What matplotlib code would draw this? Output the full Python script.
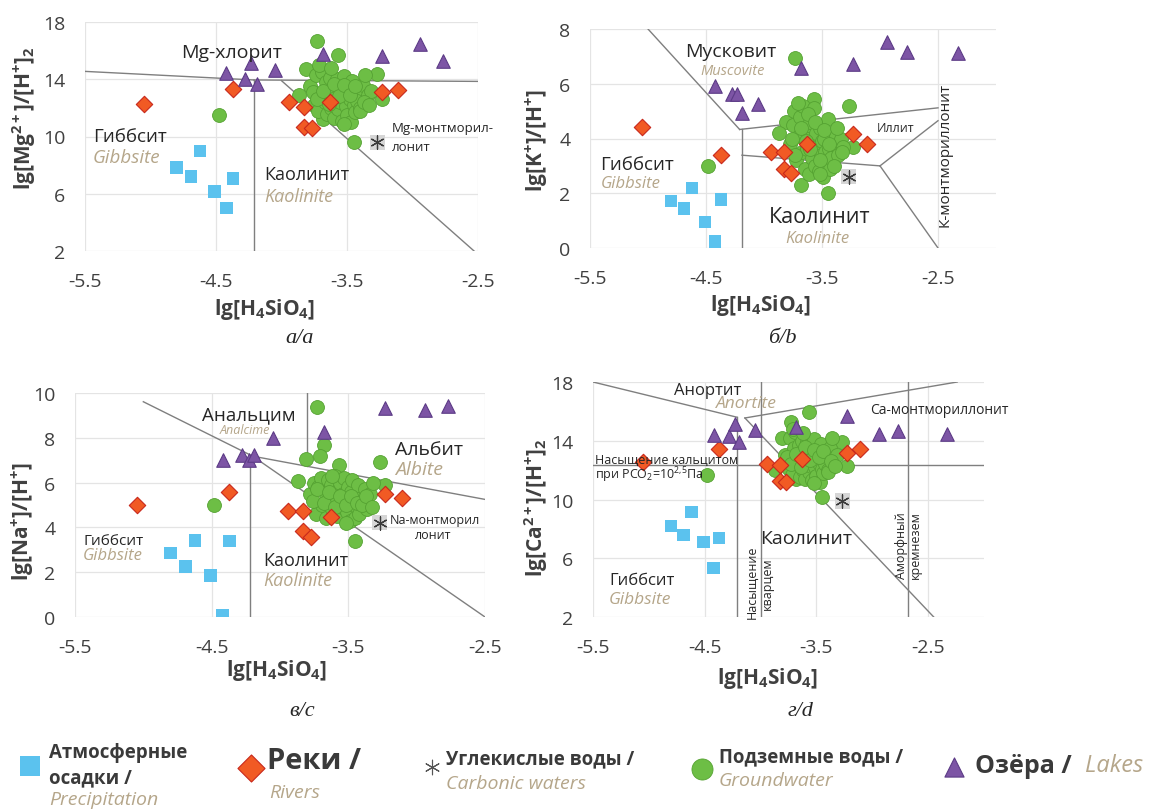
import matplotlib as mpl

mpl.use('Agg')

import matplotlib.pyplot as plt

# ---------------- fonts / colours ----------------
plt.rcParams['font.family'] = ['Open Sans', 'DejaVu Sans']
plt.rcParams['mathtext.fontset'] = 'custom'
plt.rcParams['mathtext.rm'] = 'Open Sans'
plt.rcParams['mathtext.it'] = 'Open Sans:italic'
plt.rcParams['mathtext.bf'] = 'Open Sans:bold'
plt.rcParams['axes.unicode_minus'] = False

TXT = '#262626'
TICK = '#404040'
TAN = '#B5A68A'
LINE = '#7F7F7F'
GRID = '#E4E4E4'

C_PREC = '#5BC2EE'
C_RIVER, E_RIVER = '#F15A24', '#C8281C'
C_GW, E_GW = '#6DBE45', '#55A232'
C_LAKE, E_LAKE = '#7D55A5', '#5C3B86'

W, H = 1154, 812

# ---------------- data ----------------
xticks = [-5.5, -4.5, -3.5, -2.5]
xtick_labels = ['-5.5', '-4.5', '-3.5', '-2.5']

# атмосферные осадки
prec_x = [-4.80, -4.69, -4.62, -4.51, -4.42, -4.37]
prec_mg = [7.84, 7.21, 9.00, 6.16, 5.00, 7.07]
prec_k = [1.72, 1.44, 2.19, 0.94, 0.24, 1.77]
prec_na = [2.87, 2.26, 3.42, 1.86, 0.10, 3.39]
prec_ca = [8.20, 7.59, 9.13, 7.10, 5.33, 7.37]

# реки
river_x = [-5.05, -4.37, -3.94, -3.83, -3.83, -3.77, -3.63, -3.23, -3.11]
river_mg = [12.26, 13.35, 12.42, 12.09, 10.67, 10.58, 12.44, 13.12, 13.26]
river_k = [4.41, 3.39, 3.49, 3.51, 2.89, 2.73, 3.81, 4.15, 3.79]
river_na = [4.98, 5.57, 4.75, 4.71, 3.83, 3.57, 4.46, 5.50, 5.32]
river_ca = [12.57, 13.43, 12.41, 12.34, 11.26, 11.20, 12.73, 13.18, 13.41]

# озёра
lake_x = [-4.42, -4.28, -4.23, -4.19, -4.05, -3.68, -3.23, -2.94, -2.77, -2.33]
lake_mg = [14.42, 14.05, 15.16, 13.65, 14.65, 15.74, 15.63, 16.44, 15.28, 15.00]
lake_k = [5.92, 5.62, 5.62, 4.93, 5.27, 6.56, 6.71, 7.52, 7.16, 7.13]
lake_na = [7.03, 7.24, 7.00, 7.24, 7.98, 8.28, 9.32, 9.24, 9.44, 9.30]
lake_ca = [14.38, 14.31, 15.17, 13.93, 14.72, 14.95, 15.67, 14.45, 14.67, 14.45]

# углекислые воды
carb_x = [-3.27]
carb_mg = [9.60]
carb_k = [2.60]
carb_na = [4.21]
carb_ca = [9.90]

# подземные воды
gw_x = [-4.48, -3.73, -3.57, -3.45, -3.81, -3.87, -3.27, -3.23, -3.68,
        -3.78, -3.75, -3.74, -3.72, -3.70, -3.69, -3.67, -3.66, -3.65, -3.64,
        -3.63, -3.62, -3.61, -3.60, -3.59, -3.58, -3.57, -3.56, -3.55, -3.54,
        -3.53, -3.52, -3.51, -3.50, -3.49, -3.48, -3.47, -3.46, -3.45, -3.44,
        -3.43, -3.42, -3.40, -3.38, -3.36, -3.34, -3.32, -3.71, -3.62, -3.52,
        -3.76, -3.73, -3.68, -3.64, -3.60, -3.56, -3.52, -3.48, -3.44, -3.40,
        -3.37, -3.33]
gw_mg = [11.50, 16.70, 15.70, 9.60, 14.70, 12.90, 14.40, 12.60, 11.20,
         13.5, 12.2, 14.3, 11.8, 13.0, 14.5, 12.4, 13.8, 11.6, 12.9,
         14.1, 12.0, 13.3, 11.3, 12.7, 14.0, 11.9, 13.5, 12.4, 11.1,
         13.0, 14.2, 12.1, 11.5, 13.4, 12.6, 11.0, 13.9, 12.2, 11.7,
         13.1, 12.5, 12.0, 13.6, 14.3, 12.9, 13.2, 15.0, 14.8, 10.9,
         13.1, 12.6, 13.2, 12.3, 13.7, 12.8, 13.6, 12.9, 13.5, 11.8,
         12.4, 12.2]
gw_k = [3.00, 6.95, 5.45, 2.00, 4.60, 4.20, 5.20, 3.70, 2.30,
        3.8, 4.5, 5.0, 3.2, 4.1, 4.8, 3.5, 5.2, 2.9, 4.3,
        3.6, 4.0, 2.7, 4.6, 3.3, 3.9, 5.1, 3.0, 4.2, 3.7,
        2.8, 4.4, 3.4, 3.9, 2.6, 4.0, 3.5, 3.1, 4.7, 3.6,
        2.9, 3.3, 3.8, 4.1, 3.4, 4.0, 3.7, 5.3, 4.9, 2.7,
        4.0, 3.4, 4.4, 3.9, 3.6, 4.6, 3.2, 4.3, 3.8, 3.0,
        4.4, 3.5]
gw_na = [5.00, 9.39, 6.80, 3.40, 7.05, 6.06, 6.90, 5.90, 7.70,
         5.5, 6.0, 4.6, 5.8, 6.2, 5.0, 5.6, 4.4, 6.1, 5.3,
         5.9, 4.8, 5.4, 6.3, 5.1, 4.5, 5.7, 6.0, 4.9, 5.5,
         6.2, 5.2, 4.7, 5.8, 4.3, 5.6, 6.1, 5.0, 4.4, 5.3,
         5.9, 4.6, 5.2, 5.7, 4.8, 5.5, 6.0, 7.2, 6.3, 4.2,
         5.2, 5.7, 5.1, 5.6, 4.9, 5.4, 5.0, 5.4, 5.1, 5.0,
         5.4, 4.9]
gw_ca = [11.70, 15.30, 15.95, 10.15, 14.20, 12.00, 13.90, 12.30, 11.40,
         13.0, 12.1, 14.2, 11.7, 13.5, 14.6, 12.4, 13.7, 11.5, 12.8,
         14.0, 12.0, 13.3, 11.4, 12.7, 13.9, 11.9, 13.4, 12.3, 11.3,
         13.0, 14.1, 12.2, 11.6, 13.2, 12.5, 11.2, 13.8, 12.1, 11.8,
         13.1, 12.4, 12.0, 13.5, 14.2, 12.8, 13.0, 14.8, 14.5, 11.1,
         12.9, 12.4, 13.1, 12.2, 13.6, 12.7, 13.4, 12.9, 13.3, 11.9,
         12.6, 12.3]

# границы полей устойчивости минералов (отрезки)
bnd_a = [[(-5.5, 14.55), (-4.21, 13.95)],
         [(-4.21, 13.95), (-2.5, 13.85)],
         [(-4.21, 2.0), (-4.21, 13.95)],
         [(-4.0, 13.9), (-2.53, 2.0)]]
bnd_b = [[(-5.0, 8.0), (-4.21, 4.33)],
         [(-4.21, 4.33), (-2.5, 5.12)],
         [(-4.19, 0.0), (-4.19, 4.33)],
         [(-4.19, 3.39), (-3.0, 3.0)],
         [(-3.0, 3.0), (-2.5, 4.65)],
         [(-3.0, 3.0), (-2.5, 0.0)]]
bnd_c = [[(-5.0, 9.61), (-4.2, 7.18)],
         [(-4.2, 7.18), (-2.5, 0.0)],
         [(-4.2, 7.18), (-2.5, 5.25)],
         [(-4.22, 0.0), (-4.22, 7.18)],
         [(-3.80, 6.73), (-3.80, 10.0)]]
bnd_d = [[(-5.5, 18.0), (-4.21, 15.6)],
         [(-4.14, 15.55), (-2.24, 18.0)],
         [(-4.14, 15.55), (-2.45, 2.0)],
         [(-4.21, 2.0), (-4.21, 15.6)],
         [(-4.0, 2.0), (-4.0, 18.0)],
         [(-2.68, 2.0), (-2.68, 18.0)],
         [(-5.5, 12.34), (-2.0, 12.34)]]

fig = plt.figure(figsize=(W / 100, H / 100), dpi=100)


def px_axes(left, top, right, bottom):
    return fig.add_axes([left / W, 1 - bottom / H, (right - left) / W, (bottom - top) / H])


def draw_panel(ax, xlim, ylim, yticks, bnd, y_prec, y_river, y_gw, y_lake, y_carb):
    ax.set_xlim(xlim)
    ax.set_ylim(ylim)
    ax.set_xticks(xticks)
    ax.set_xticklabels(xtick_labels)
    ax.set_yticks(yticks)
    ax.set_yticklabels([str(v) for v in yticks])
    ax.grid(True, color=GRID, lw=0.9, zorder=0)
    ax.set_axisbelow(True)
    for s in ax.spines.values():
        s.set_visible(False)
    ax.tick_params(axis='x', length=0, labelsize=14, labelcolor=TICK, pad=15)
    ax.tick_params(axis='y', length=0, labelsize=14, labelcolor=TICK, pad=14)

    for seg in bnd:
        (x0, y0), (x1, y1) = seg
        ax.plot([x0, x1], [y0, y1], color=LINE, lw=1.0, zorder=2)

    ax.scatter(gw_x, y_gw, s=100, marker='o', color=C_GW, edgecolors=E_GW,
               linewidths=0.6, zorder=3)
    ax.scatter(prec_x, y_prec, s=80, marker='s', color=C_PREC, edgecolors='none', zorder=3)
    ax.scatter(river_x, y_river, s=70, marker='D', color=C_RIVER, edgecolors=E_RIVER,
               linewidths=0.8, zorder=4)
    ax.scatter(lake_x, y_lake, s=95, marker='^', color=C_LAKE, edgecolors=E_LAKE,
               linewidths=0.8, zorder=5)
    ax.scatter(carb_x, y_carb, s=120, marker='s', color='#D6D6D6', edgecolors='none', zorder=5)
    ax.scatter(carb_x, y_carb, s=90, marker=(6, 2, 0), color='#3A3A3A', linewidths=0.9, zorder=6)


# ---------------- (а) Mg ----------------
ax_a = px_axes(85, 23, 478, 252)
draw_panel(ax_a, (-5.5, -2.5), (2, 18), [2, 6, 10, 14, 18], bnd_a,
           prec_mg, river_mg, gw_mg, lake_mg, carb_mg)
ax_a.text(-4.38, 15.9, 'Mg-хлорит', fontsize=14, color=TXT, ha='center', va='center', zorder=7)
ax_a.text(-5.44, 10.03, 'Гиббсит', fontsize=13.5, color=TXT, ha='left', va='center')
ax_a.text(-5.44, 8.56, 'Gibbsite', fontsize=13.5, color=TAN, style='italic', ha='left', va='center')
ax_a.text(-4.13, 7.37, 'Каолинит', fontsize=13, color=TXT, ha='left', va='center')
ax_a.text(-4.13, 5.83, 'Kaolinite', fontsize=13, color=TAN, style='italic', ha='left', va='center')
ax_a.text(-3.16, 10.66, 'Mg-монтморил-', fontsize=9.5, color=TXT, ha='left', va='center')
ax_a.text(-3.16, 9.33, 'лонит', fontsize=9.5, color=TXT, ha='left', va='center')

# ---------------- (б) K ----------------
ax_b = px_axes(590, 30, 996, 249)
draw_panel(ax_b, (-5.5, -2.0), (0, 8), [0, 2, 4, 6, 8], bnd_b,
           prec_k, river_k, gw_k, lake_k, carb_k)
ax_b.text(-4.29, 7.2, 'Мусковит', fontsize=14, color=TXT, ha='center', va='center')
ax_b.text(-4.27, 6.5, 'Muscovite', fontsize=10.5, color=TAN, style='italic', ha='center', va='center')
ax_b.text(-3.03, 4.39, 'Иллит', fontsize=9, color=TXT, ha='left', va='center')
ax_b.text(-2.44, 3.44, 'К-монтмориллонит', fontsize=11, color=TXT, ha='center', va='center',
          rotation=90)
ax_b.text(-5.41, 3.07, 'Гиббсит', fontsize=13.5, color=TXT, ha='left', va='center')
ax_b.text(-5.41, 2.38, 'Gibbsite', fontsize=12, color=TAN, style='italic', ha='left', va='center')
ax_b.text(-3.52, 1.14, 'Каолинит', fontsize=15.5, color=TXT, ha='center', va='center')
ax_b.text(-3.54, 0.38, 'Kaolinite', fontsize=12, color=TAN, style='italic', ha='center', va='center')

# ---------------- (в) Na ----------------
ax_c = px_axes(75, 394, 485, 618)
draw_panel(ax_c, (-5.5, -2.5), (0, 10), [0, 2, 4, 6, 8, 10], bnd_c,
           prec_na, river_na, gw_na, lake_na, carb_na)
ax_c.text(-4.23, 9.06, 'Анальцим', fontsize=13.5, color=TXT, ha='center', va='center')
ax_c.text(-4.26, 8.35, 'Analcime', fontsize=9, color=TAN, style='italic', ha='center', va='center')
ax_c.text(-2.91, 7.5, 'Альбит', fontsize=14, color=TXT, ha='center', va='center')
ax_c.text(-2.98, 6.61, 'Albite', fontsize=14, color=TAN, style='italic', ha='center', va='center')
ax_c.text(-5.44, 3.42, 'Гиббсит', fontsize=11, color=TXT, ha='left', va='center')
ax_c.text(-5.44, 2.78, 'Gibbsite', fontsize=12, color=TAN, style='italic', ha='left', va='center')
ax_c.text(-4.12, 2.56, 'Каолинит', fontsize=13, color=TXT, ha='left', va='center')
ax_c.text(-4.12, 1.63, 'Kaolinite', fontsize=13, color=TAN, style='italic', ha='left', va='center')
ax_c.text(-3.20, 4.36, 'Na-монтморил', fontsize=9, color=TXT, ha='left', va='center')
ax_c.text(-2.88, 3.70, 'лонит', fontsize=9, color=TXT, ha='center', va='center')

# ---------------- (г) Ca ----------------
ax_d = px_axes(593, 383, 984, 618)
draw_panel(ax_d, (-5.5, -2.0), (2, 18), [2, 6, 10, 14, 18], bnd_d,
           prec_ca, river_ca, gw_ca, lake_ca, carb_ca)
ax_d.text(-4.47, 17.43, 'Анортит', fontsize=12, color=TXT, ha='center', va='center')
ax_d.text(-4.13, 16.57, 'Anortite', fontsize=12.5, color=TAN, style='italic', ha='center', va='center')
ax_d.text(-3.02, 16.12, 'Са-монтмориллонит', fontsize=10, color=TXT, ha='left', va='center')
ax_d.text(-5.48, 12.75, 'Насыщение кальцитом', fontsize=9, color=TXT, ha='left', va='center', zorder=7)
ax_d.text(-5.48, 11.70, r'при PCO$_2$=10$^{2{,}5}$Па', fontsize=9, color=TXT, ha='left', va='center',
          zorder=7)
ax_d.text(-3.59, 7.41, 'Каолинит', fontsize=14, color=TXT, ha='center', va='center')
ax_d.text(-5.06, 4.49, 'Гиббсит', fontsize=12, color=TXT, ha='center', va='center')
ax_d.text(-5.08, 3.23, 'Gibbsite', fontsize=12.5, color=TAN, style='italic', ha='center', va='center')
ax_d.text(-4.08, 4.43, 'Насыщение', fontsize=9, color=TXT, ha='center', va='center', rotation=90)
ax_d.text(-3.94, 4.30, 'кварцем', fontsize=9, color=TXT, ha='center', va='center', rotation=90)
ax_d.text(-2.74, 6.91, 'Аморфный', fontsize=9, color=TXT, ha='center', va='center', rotation=90)
ax_d.text(-2.61, 6.98, 'кремнезем', fontsize=9, color=TXT, ha='center', va='center', rotation=90)

# ---------------- подписи осей и панелей ----------------
xlab = r'$\mathbf{lg[H_4SiO_4]}$'
lab_kw = dict(fontsize=15, color=TICK, ha='center', va='center')
fig.text(265 / W, 1 - 310 / H, xlab, **lab_kw)
fig.text(761 / W, 1 - 306 / H, xlab, **lab_kw)
fig.text(277 / W, 1 - 671 / H, xlab, **lab_kw)
fig.text(768 / W, 1 - 679 / H, xlab, **lab_kw)
fig.text(24 / W, 1 - 118 / H, r'$\mathbf{lg[Mg^{2+}]/[H^{+}]_2}$', rotation=90, **lab_kw)
fig.text(537 / W, 1 - 140 / H, r'$\mathbf{lg[K^{+}]/[H^{+}]}$', rotation=90, **lab_kw)
fig.text(22 / W, 1 - 522 / H, r'$\mathbf{lg[Na^{+}]/[H^{+}]}$', rotation=90, **lab_kw)
fig.text(536 / W, 1 - 508 / H, r'$\mathbf{lg[Ca^{2+}]/[H^{+}]_2}$', rotation=90, **lab_kw)

cap_kw = dict(fontsize=16, family='Liberation Serif', style='italic', color=TXT,
              ha='center', va='center')
fig.text(300 / W, 1 - 339 / H, 'а/a', **cap_kw)
fig.text(782 / W, 1 - 339 / H, 'б/b', **cap_kw)
fig.text(302 / W, 1 - 712 / H, 'в/c', **cap_kw)
fig.text(800 / W, 1 - 712 / H, 'г/d', **cap_kw)

# ---------------- легенда ----------------
leg = fig.add_axes([0, 0, 1, 1])
leg.set_xlim(0, W)
leg.set_ylim(H, 0)
leg.axis('off')

leg.scatter([30], [767], s=200, marker='s', color=C_PREC, edgecolors='none')
leg.scatter([251], [769], s=190, marker='D', color=C_RIVER, edgecolors=E_RIVER, linewidths=0.8)
leg.scatter([432], [768], s=110, marker=(6, 2, 0), color='#555555', linewidths=0.8)
leg.scatter([702], [770], s=230, marker='o', color=C_GW, edgecolors=E_GW, linewidths=0.6)
leg.scatter([954], [768], s=190, marker='^', color=C_LAKE, edgecolors=E_LAKE, linewidths=0.8)

b_kw = dict(fontsize=13.5, fontweight='bold', color='#3A3A3A', ha='left', va='center')
i_kw = dict(fontsize=14, style='italic', color=TAN, ha='left', va='center')
leg.text(49, 753, 'Атмосферные', **b_kw)
leg.text(49, 778, 'осадки /', **b_kw)
leg.text(49, 800, 'Precipitation', **i_kw)
leg.text(267, 762, 'Реки /', fontsize=21, fontweight='bold', color='#3A3A3A', ha='left', va='center')
leg.text(269, 793, 'Rivers', **i_kw)
leg.text(446, 759, 'Углекислые воды /', **b_kw)
leg.text(446, 784, 'Carbonic waters', **i_kw)
leg.text(719, 757, 'Подземные воды /', **b_kw)
leg.text(719, 781, 'Groundwater', **i_kw)
leg.text(975, 766, 'Озёра /', fontsize=18, fontweight='bold', color='#3A3A3A', ha='left', va='center')
leg.text(1085, 766, 'Lakes', fontsize=17, style='italic', color=TAN, ha='left', va='center')

fig.savefig('out.png', dpi=100, facecolor='white')
plt.close(fig)
